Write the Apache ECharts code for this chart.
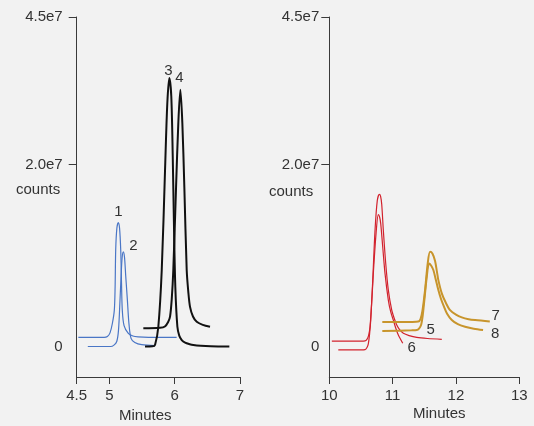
<!DOCTYPE html>
<html>
<head>
<meta charset="utf-8">
<title>Chromatograms</title>
<script src="https://cdn.jsdelivr.net/npm/echarts@6/dist/echarts.min.js"></script>
<style>
  html, body { margin: 0; padding: 0; background: #f2f2f2; }
  #main { width: 534px; height: 426px; }
</style>
</head>
<body>
<div id="main"></div>
<script>
// counts are in millions (1e6); [minutes, counts]
const trace1 = [[4.525,1.0],[4.92,1.0],[4.97,1.1],[5.01,1.5],[5.045,2.5],[5.076,4.0],[5.088,6.5],[5.097,10.6],[5.115,13.0],[5.137,13.6],[5.156,13.0],[5.174,10.6],[5.186,7.0],[5.198,4.0],[5.225,2.3],[5.29,1.45],[5.36,1.15],[5.44,1.05],[5.6,1.0],[6.03,1.0]];
const trace2 = [[4.67,0],[5.02,0],[5.07,0.15],[5.113,0.55],[5.14,1.8],[5.163,5.1],[5.18,7.8],[5.196,9.8],[5.214,10.4],[5.232,9.8],[5.25,7.8],[5.276,5.1],[5.30,2.5],[5.332,0.9],[5.39,0.45],[5.495,0.2],[5.70,0.1]];
const trace3 = [[5.546,0],[5.66,0.02],[5.70,0.2],[5.75,2.2],[5.802,8.4],[5.852,19.3],[5.887,26.7],[5.918,29.5],[5.948,27.5],[5.970,21],[5.99,13],[6.01,6.5],[6.041,2.2],[6.07,1.2],[6.108,0.71],[6.16,0.42],[6.23,0.25],[6.286,0.16],[6.4,0.08],[6.55,0.03],[6.837,0]];
const trace4 = [[5.52,2.0],[5.776,2.06],[5.85,2.2],[5.90,2.7],[5.929,3.28],[5.955,5.2],[5.979,8.4],[6.021,17.5],[6.056,24.6],[6.087,28.2],[6.117,24.6],[6.148,17.5],[6.184,8.4],[6.21,5.9],[6.235,4.36],[6.28,3.3],[6.338,2.72],[6.43,2.38],[6.541,2.17]];
const trace5 = [[10.04,0.6],[10.5,0.6],[10.564,0.62],[10.591,0.75],[10.62,1.2],[10.643,2.17],[10.665,4.4],[10.686,7.29],[10.722,12.77],[10.758,16.05],[10.79,16.71],[10.81,16.5],[10.828,15.6],[10.853,12.77],[10.891,9.12],[10.932,6.19],[10.986,4.0],[11.03,3.0],[11.065,2.36],[11.11,1.85],[11.169,1.45],[11.26,1.2],[11.381,1.0],[11.55,0.88],[11.776,0.79]];
const trace6 = [[10.142,-0.38],[10.5,-0.38],[10.564,-0.35],[10.595,-0.1],[10.616,0.3],[10.635,1.3],[10.654,2.9],[10.695,8.0],[10.738,12.4],[10.774,14.49],[10.795,14.2],[10.812,13.5],[10.844,10.9],[10.88,8.0],[10.932,5.1],[10.97,3.8],[11.011,2.9],[11.05,2.0],[11.09,1.26],[11.16,0.35]];
const trace7 = [[10.837,2.68],[11.3,2.7],[11.406,2.74],[11.44,3.0],[11.47,3.9],[11.512,6.19],[11.554,9.12],[11.591,10.41],[11.63,10.2],[11.67,9.4],[11.70,8.2],[11.722,7.29],[11.776,5.84],[11.84,4.8],[11.907,4.0],[12.0,3.5],[12.092,3.2],[12.2,3.0],[12.302,2.9],[12.534,2.74]];
const trace8 = [[10.837,1.70],[11.3,1.78],[11.381,1.81],[11.42,2.0],[11.449,2.36],[11.475,3.4],[11.501,5.1],[11.539,7.66],[11.575,9.12],[11.607,8.9],[11.643,8.4],[11.68,7.4],[11.722,6.2],[11.76,5.3],[11.801,4.55],[11.86,3.6],[11.934,2.92],[12.03,2.45],[12.144,2.17],[12.28,1.95],[12.428,1.81]];

const yMin = -3.35;
const yMax = 36.2;
const yTickValues = [0, 20, 36.2];
const yTickLabels = ['0', '2.0e7', '4.5e7'];
const xTicksLeft = [4.5, 5, 6, 7];
const xTicksRight = [10, 11, 12, 13];

const FONT = '"Liberation Sans", Arial, sans-serif';
const TEXT = '#333';
const AXIS = '#3a3a3a';

const chart = echarts.init(document.getElementById('main'), null, { renderer: 'canvas' });

function yAxis(gridIndex, margin) {
  return {
    type: 'value', gridIndex, min: yMin, max: yMax,
    splitLine: { show: false },
    axisLine: { show: true, lineStyle: { color: AXIS, width: 1 } },
    axisTick: { show: true, length: 8, lineStyle: { color: AXIS }, customValues: [20, 36.2] },
    axisLabel: {
      customValues: yTickValues, margin,
      color: TEXT, fontSize: 15, fontFamily: FONT,
      formatter: (v) => yTickLabels[yTickValues.indexOf(v)]
    }
  };
}

function xAxis(gridIndex, ticks) {
  return {
    type: 'value', gridIndex, min: ticks[0], max: ticks[ticks.length - 1],
    splitLine: { show: false },
    axisLine: { show: true, onZero: false, lineStyle: { color: AXIS, width: 1 } },
    axisTick: { show: true, length: 7, lineStyle: { color: AXIS }, customValues: ticks },
    axisLabel: {
      customValues: ticks, margin: 11,
      color: TEXT, fontSize: 15, fontFamily: FONT,
      formatter: (v) => String(v)
    }
  };
}

const peakOf = (d) => d.reduce((a, b) => (b[1] > a[1] ? b : a));
const endOf = (d) => d[d.length - 1];

function trace(data, idx, color, width, tag, anchor, offset) {
  const at = anchor === 'peak' ? peakOf(data) : endOf(data);
  return {
    type: 'line', xAxisIndex: idx, yAxisIndex: idx, data,
    showSymbol: false, smooth: 0.3,
    lineStyle: { color, width }, silent: true, animation: false,
    markPoint: {
      symbol: 'circle', symbolSize: 1, silent: true,
      itemStyle: { color: 'rgba(0,0,0,0)' },
      label: { show: true, formatter: tag, color: TEXT, fontSize: 15, fontFamily: FONT, offset },
      data: [{ coord: at }]
    }
  };
}

const BLUE = '#4a76c6', BLACK = '#111', RED = '#d2222d', GOLD = '#c8952c';

chart.setOption({
  backgroundColor: '#f2f2f2',
  animation: false,
  grid: [
    { left: 76.7, top: 17, width: 163.3, height: 360 },
    { left: 329.3, top: 17, width: 190, height: 360 }
  ],
  xAxis: [xAxis(0, xTicksLeft), xAxis(1, xTicksRight)],
  yAxis: [yAxis(0, 14), yAxis(1, 10)],
  graphic: [
    { type: 'text', left: 16, top: 182, style: { text: 'counts', fill: TEXT, font: '15px ' + FONT } },
    { type: 'text', left: 269, top: 184, style: { text: 'counts', fill: TEXT, font: '15px ' + FONT } },
    { type: 'text', left: 119, top: 408, style: { text: 'Minutes', fill: TEXT, font: '15px ' + FONT } },
    { type: 'text', left: 413, top: 406, style: { text: 'Minutes', fill: TEXT, font: '15px ' + FONT } }
  ],
  series: [
    trace(trace1, 0, BLUE, 1.2, '1', 'peak', [0, -11]),
    trace(trace2, 0, BLUE, 1.2, '2', 'peak', [10, -6]),
    trace(trace3, 0, BLACK, 2, '3', 'peak', [-1, -7]),
    trace(trace4, 0, BLACK, 2, '4', 'peak', [-1, -12]),
    trace(trace5, 1, RED, 1.2, '5', 'end', [-11, -9]),
    trace(trace6, 1, RED, 1.2, '6', 'end', [9, 5]),
    trace(trace7, 1, GOLD, 2, '7', 'end', [6, -6]),
    trace(trace8, 1, GOLD, 2, '8', 'end', [12, 4])
  ]
});
</script>
</body>
</html>
